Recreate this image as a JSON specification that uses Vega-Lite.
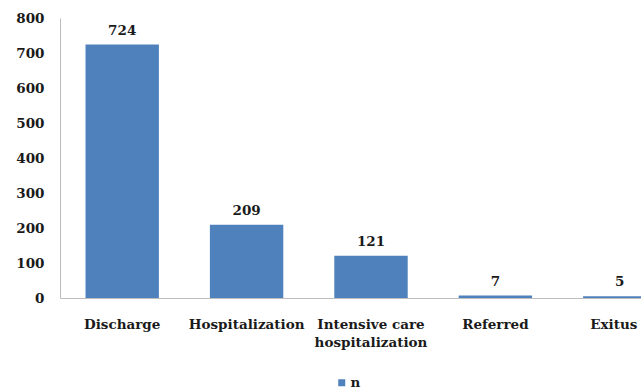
{
  "$schema": "https://vega.github.io/schema/vega-lite/v6.json",
  "autosize": {"type": "none"},
  "width": 622,
  "height": 280,
  "padding": {"left": 60, "top": 18, "right": 0, "bottom": 91},
  "background": "white",
  "config": {
    "view": {"stroke": null},
    "font": "DejaVu Serif"
  },
  "data": {
    "values": [
      {"outcome": "Discharge", "n": 724, "series": "n"},
      {"outcome": "Hospitalization", "n": 209, "series": "n"},
      {"outcome": "Intensive care hospitalization", "n": 121, "series": "n"},
      {"outcome": "Referred", "n": 7, "series": "n"},
      {"outcome": "Exitus", "n": 5, "series": "n"}
    ]
  },
  "encoding": {
    "x": {
      "field": "outcome",
      "type": "nominal",
      "sort": null,
      "scale": {"paddingInner": 0.41, "paddingOuter": 0.205},
      "axis": {
        "title": null,
        "labelAngle": 0,
        "ticks": false,
        "domainColor": "#bdbdbd",
        "labelFont": "DejaVu Serif",
        "labelFontWeight": "bold",
        "labelFontSize": 13.5,
        "labelColor": "#1a1a1a",
        "labelPadding": 19,
        "labelLineHeight": 18,
        "labelOffset": {"condition": {"test": "datum.label == 'Exitus'", "value": -6}, "value": 0},
        "labelExpr": "datum.label == 'Intensive care hospitalization' ? ['Intensive care', 'hospitalization'] : datum.label"
      }
    },
    "y": {
      "field": "n",
      "type": "quantitative",
      "scale": {"domain": [0, 800]},
      "axis": {
        "title": null,
        "values": [0, 100, 200, 300, 400, 500, 600, 700, 800],
        "grid": false,
        "ticks": false,
        "domainColor": "#bdbdbd",
        "labelFont": "DejaVu Serif",
        "labelFontWeight": "bold",
        "labelFontSize": 13.5,
        "labelColor": "#1a1a1a",
        "labelPadding": 16
      }
    }
  },
  "layer": [
    {
      "mark": {"type": "bar", "color": "#4F81BD"},
      "encoding": {
        "color": {
          "field": "series",
          "type": "nominal",
          "scale": {"range": ["#4F81BD"]},
          "legend": {
            "title": null,
            "orient": "none",
            "legendX": 275,
            "legendY": 358,
            "symbolType": "square",
            "symbolSize": 49,
            "symbolStrokeWidth": 0,
            "labelFont": "DejaVu Serif",
            "labelFontWeight": "bold",
            "labelFontSize": 13.5,
            "labelColor": "#1a1a1a",
            "labelOffset": 2
          }
        }
      }
    },
    {
      "mark": {
        "type": "text",
        "dy": -14,
        "font": "DejaVu Serif",
        "fontWeight": "bold",
        "fontSize": 13.5,
        "color": "#1a1a1a"
      },
      "encoding": {"text": {"field": "n", "type": "quantitative"}}
    }
  ]
}
